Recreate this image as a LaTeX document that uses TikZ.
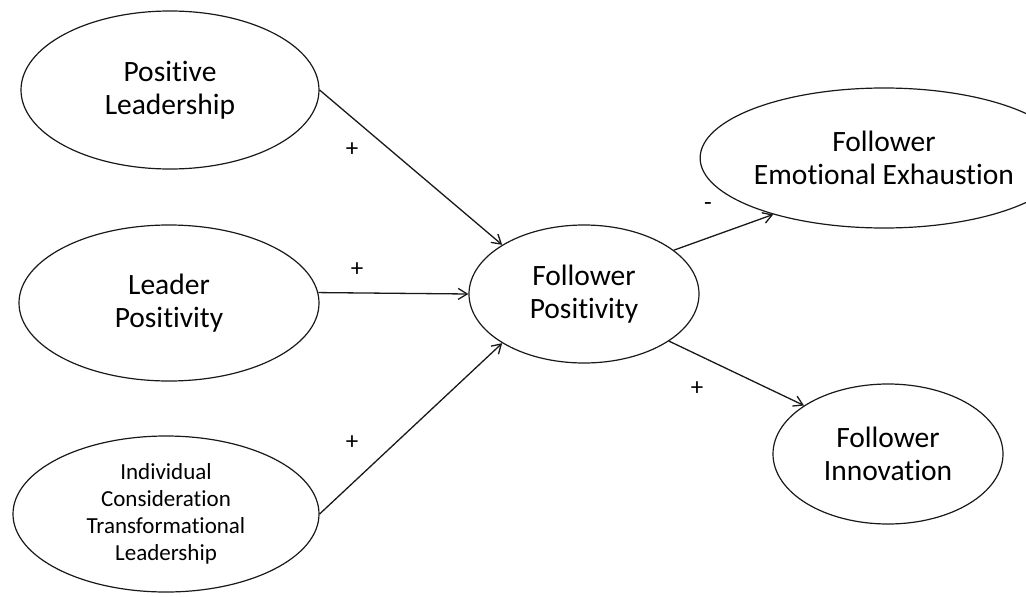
\documentclass[tikz,border=0pt]{standalone}
\usepackage{fontspec}
\setmainfont{Carlito}[Ligatures=NoCommon]
\usetikzlibrary{shapes.geometric,arrows.meta}
\begin{document}
\begin{tikzpicture}[x=1pt,y=-1pt,
  oval/.style={draw=black!90,line width=1.2pt,ellipse,inner sep=0pt,align=center,
    font=\fontsize{29.5}{33}\selectfont},
  smalloval/.style={oval,font=\fontsize{23}{27}\selectfont},
  link/.style={draw=black!90,line width=1.3pt,-{Straight Barb[length=9pt,width=11pt,line width=1.3pt]}},
  sign/.style={font=\fontsize{25}{25}\selectfont,inner sep=0pt}]
\useasboundingbox (0,0) rectangle (1026,597);
\node[oval,minimum width=298pt,minimum height=158pt] (pl) at (170,90) {Positive\\Leadership};
\node[oval,minimum width=300pt,minimum height=156pt] (lp) at (169,303) {Leader\\Positivity};
\node[smalloval,minimum width=306pt,minimum height=156pt] (ic) at (166,514) {Individual\\Consideration\\Transformational\\Leadership};
\node[oval,minimum width=230pt,minimum height=138pt] (fp) at (584,294) {Follower\\Positivity};
\node[oval,minimum width=278pt,minimum height=140pt] (ee) at (884,158) {Follower\\Emotional Exhaustion};
\node[oval,minimum width=230pt,minimum height=140pt] (fi) at (888,454) {Follower\\Innovation};
\draw[link] (pl.east) -- (fp.149);
\draw[link] (lp.4) -- (fp.west);
\draw[link] (ic.east) -- (fp.211);
\draw[link] (fp.26) -- (ee.207);
\draw[link] (fp.-29) -- (fi.150);
\node[sign] (s1) at (352,150) {+};
\node[sign] (s2) at (357,270) {+};
\node[sign] (s3) at (352,443) {+};
\node[sign] (s4) at (708,207) {-};
\node[sign] (s5) at (697,389) {+};
\end{tikzpicture}
\end{document}
